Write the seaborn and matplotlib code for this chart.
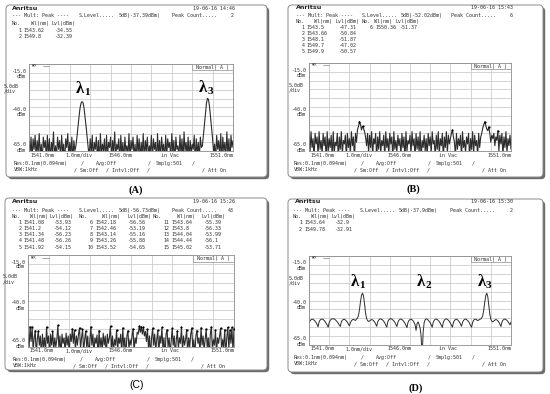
import numpy as np
import pandas as pd
import matplotlib
matplotlib.use("Agg")
import matplotlib.pyplot as plt
import seaborn as sns
from matplotlib.patches import FancyBboxPatch, Rectangle

# trace levels (dBm), 201 samples each from 1541.0 to 1551.0 nm
a_levels = [-60, -67, -57, -70, -58, -64, -56, -69, -59, -66,
            -55, -68, -61, -72, -57, -63, -59, -70, -56, -67,
            -58, -71, -60, -65, -54, -69, -62, -68, -57, -64,
            -59, -70, -56, -66, -61, -72, -58, -63, -55, -69,
            -60, -67, -57, -71, -59, -65, -62, -57, -51, -45.5,
            -40.5, -37.5, -36.6, -37.3, -40.5, -45.5, -51, -57, -63, -68,
            -58, -66, -56, -70, -60, -64, -57, -69, -59, -72,
            -55, -67, -61, -65, -58, -71, -56, -68, -60, -63,
            -57, -70, -59, -66, -54, -69, -61, -64, -58, -72,
            -56, -67, -60, -71, -57, -65, -62, -68, -55, -70,
            -59, -64, -57, -69, -61, -72, -56, -66, -58, -70,
            -60, -67, -55, -71, -59, -65, -57, -68, -62, -66,
            -56, -70, -58, -64, -60, -72, -55, -67, -59, -69,
            -57, -65, -61, -71, -56, -68, -58, -63, -60, -70,
            -55, -66, -59, -72, -57, -64, -62, -69, -56, -67,
            -58, -71, -54, -65, -60, -68, -57, -70, -59, -66,
            -61, -64, -56, -72, -58, -67, -60, -69, -57, -63,
            -62, -56, -49.5, -43.5, -37.5, -34.7, -35.5, -39.5, -45.5, -52,
            -58, -66, -61, -70, -56, -64, -59, -68, -55, -71,
            -57, -65, -60, -69, -54, -67, -58, -72, -56, -63, -59]

b_levels = [-56, -66, -54, -63, -58, -70, -55, -61, -57, -68,
            -54, -64, -59, -67, -55, -62, -57, -71, -54, -65,
            -58, -63, -56, -69, -54, -66, -60, -62, -55, -70,
            -57, -64, -54, -67, -59, -61, -56, -69, -55, -63,
            -58, -66, -54, -62, -57, -70, -55, -60, -53, -51,
            -48.3, -50, -53, -51, -52.1, -54, -57, -62, -55, -66,
            -56, -63, -54, -68, -58, -61, -55, -70, -57, -64,
            -54, -66, -59, -62, -56, -69, -54, -63, -58, -67,
            -55, -61, -57, -70, -54, -64, -59, -66, -56, -62,
            -58, -68, -55, -63, -57, -71, -54, -65, -59, -61,
            -56, -67, -54, -62, -58, -69, -55, -64, -57, -66,
            -54, -70, -59, -63, -56, -65, -58, -68, -55, -62,
            -57, -66, -54, -61, -59, -69, -56, -64, -54, -67,
            -58, -62, -55, -70, -57, -63, -54, -66, -56, -61,
            -58, -55, -53.1, -57, -60, -68, -55, -64, -58, -62,
            -56, -69, -54, -63, -59, -66, -57, -61, -55, -70,
            -58, -64, -54, -67, -56, -62, -59, -68, -55, -63,
            -57, -55, -52, -50, -48.4, -50.5, -52.5, -53.5, -51.3, -55,
            -60, -56, -58, -55, -62, -57, -59, -53.5, -65, -56,
            -61, -55, -68, -57, -63, -54, -66, -58, -62, -56, -64]

c_levels = [-58, -66, -53.93, -62, -54.12, -67, -60, -56.23, -69, -61,
            -56.26, -64, -59, -70, -58, -65, -60, -68, -54.15, -63,
            -59, -71, -58, -64, -56.56, -67, -60, -65, -61, -53.19,
            -66, -59, -70, -58, -63, -60, -68, -57.5, -64, -59,
            -69, -58, -62, -55.16, -63, -55.88, -67, -59, -64, -58,
            -54.65, -66, -60, -55.39, -68, -61, -56.33, -65, -59, -70,
            -62, -53.99, -64, -58, -69, -60, -63, -58.5, -71, -56.1,
            -65, -60, -67, -57.5, -64, -59, -70, -58, -63, -60,
            -53.71, -66, -59, -68, -61, -64, -55.8, -67, -60, -63,
            -58, -69, -54.6, -65, -60, -71, -59, -56.2, -66, -61,
            -64, -59, -55.1, -68, -60, -63, -57, -58, -53.6, -57,
            -54.0, -58, -54.3, -59, -56.5, -62, -55.4, -66, -59, -70,
            -60, -54.8, -64, -58, -67, -61, -56.0, -69, -59, -63,
            -54.4, -66, -60, -71, -58, -55.7, -65, -60, -68, -62,
            -54.9, -64, -59, -70, -61, -56.3, -66, -60, -63, -54.2,
            -67, -59, -64, -61, -55.5, -69, -60, -65, -58, -54.7,
            -66, -61, -70, -59, -56.1, -63, -60, -68, -54.5, -64,
            -59, -67, -61, -55.2, -65, -60, -71, -58, -54.1, -66,
            -61, -64, -56.0, -69, -60, -63, -59, -54.8, -67, -61,
            -65, -55.6, -70, -60, -54.4, -66, -55.9, -63, -54.3, -68, -55.0]

d_levels = [-52.5, -51.5, -50.8, -50.5, -50.6, -51.0, -51.6, -52.4, -53.5, -54.8,
            -52.0, -51.0, -50.6, -50.4, -50.7, -51.2, -51.9, -52.8, -53.8, -55.0,
            -52.3, -51.2, -50.5, -50.2, -50.4, -50.3, -50.8, -51.4, -52.0, -52.9,
            -53.9, -54.6, -52.0, -51.1, -50.6, -50.5, -50.9, -51.5, -52.2, -53.3,
            -54.2, -52.5, -51.4, -50.8, -50.6, -50.9, -51.2, -50.5, -49.8, -48.5,
            -45.0, -40.5, -37.0, -35.9, -37.5, -42.0, -47.0, -50.2, -51.3, -51.8,
            -51.5, -51.0, -50.7, -50.9, -51.4, -52.2, -53.2, -54.5, -52.1, -51.0,
            -50.5, -50.3, -50.6, -51.0, -51.7, -52.6, -53.8, -55.0, -52.0, -50.9,
            -50.4, -50.2, -50.5, -50.9, -51.5, -52.3, -53.4, -54.6, -52.2, -51.1,
            -50.6, -50.4, -50.7, -51.2, -51.9, -52.8, -54.0, -55.2, -52.3, -51.2,
            -50.7, -50.5, -50.8, -51.4, -52.3, -53.5, -56.8, -53.0, -52.0, -53.5,
            -55.5, -60.0, -72.0, -58.0, -52.5, -50.8, -50.3, -50.5, -51.0, -51.7,
            -52.5, -53.6, -55.0, -52.3, -51.1, -50.6, -50.4, -50.7, -51.2, -51.9,
            -52.8, -54.0, -55.1, -52.2, -51.0, -50.5, -50.3, -50.6, -51.1, -51.8,
            -52.7, -53.9, -55.0, -52.4, -51.2, -50.7, -50.5, -50.8, -51.4, -52.2,
            -53.2, -54.5, -52.3, -51.2, -50.6, -50.4, -50.7, -51.2, -51.9, -52.9,
            -54.1, -55.0, -52.2, -51.1, -50.6, -50.5, -50.8, -51.3, -51.0, -50.6,
            -50.4, -49.8, -48.5, -45.5, -41.0, -37.3, -35.9, -37.8, -42.5, -47.5,
            -50.5, -51.6, -52.0, -51.5, -51.0, -50.7, -50.9, -51.4, -52.2, -53.3,
            -54.6, -52.2, -51.1, -50.6, -50.4, -50.7, -51.2, -51.9, -52.8, -53.7, -52.0]

# peak tables printed on the screens
a_tab_wl = [1543.62, 1549.8]
a_tab_lvl = [-34.55, -32.39]
b_tab_wl = [1543.5, 1543.66, 1548.1, 1549.7, 1549.9, 1550.36]
b_tab_lvl = [-47.31, -50.84, -51.87, -47.02, -50.57, -51.37]
c_tab_wl = [1541.08, 1541.2, 1541.34, 1541.48, 1541.92,
            1542.18, 1542.46, 1543.14, 1543.26, 1543.52,
            1543.64, 1543.8, 1544.04, 1544.44, 1545.02]
c_tab_lvl = [-53.93, -54.12, -56.23, -56.26, -54.15,
             -56.56, -53.19, -55.16, -55.88, -54.65,
             -55.39, -56.33, -53.99, -56.1, -53.71]
d_tab_wl = [1543.64, 1549.78]
d_tab_lvl = [-32.9, -32.91]

# peak marker dots seen on the traces
b_mark_lvl = [-48.3, -51.0, -53.1, -48.4, -51.3, -53.5]
c_more_wl = [1545.30, 1545.60, 1545.85, 1546.10, 1546.40, 1546.50, 1546.60,
             1546.80, 1547.05, 1547.30, 1547.50, 1547.75, 1548.00, 1548.25,
             1548.45, 1548.70, 1548.95, 1549.20, 1549.40, 1549.65, 1549.90,
             1550.10, 1550.35, 1550.55, 1550.70, 1550.80, 1550.90, 1551.00]
c_more_lvl = [-55.8, -54.6, -56.2, -55.1, -53.6, -54.0, -54.3,
              -55.4, -54.8, -56.0, -54.4, -55.7, -54.9, -56.3,
              -54.2, -55.5, -54.7, -56.1, -54.5, -55.2, -54.1,
              -56.0, -54.8, -55.6, -54.4, -55.9, -54.3, -55.0]

dates = ["19-06-16 14:46", "19-06-16 15:43", "19-06-16 15:26", "19-06-16 15:30"]
s_level = [-37.39, -52.02, -56.73, -37.9]
peak_count = [2, 6, 43, 2]
labels = ["(A)", "(B)", "(C)", "(D)"]

sns.set_style("whitegrid")
plt.rcParams['font.family'] = ['DejaVu Sans Mono', 'DejaVu Sans']

W, H = 550, 394
fig = plt.figure(figsize=(5.5, 3.94), dpi=100)
back = fig.add_axes([0, 0, 1, 1], zorder=0)
back.set_xlim(0, W)
back.set_ylim(H, 0)
back.axis('off')
front = fig.add_axes([0, 0, 1, 1], zorder=5)
front.set_xlim(0, W)
front.set_ylim(H, 0)
front.axis('off')

INK = '#333333'
FS = 3.65


def txt(x, y, s, ha='left', fs=FS, **kw):
    back.text(x, y, s, ha=ha, va='center', fontsize=fs, color=INK, **kw)


def frame(x0, y0, x1, y1):
    back.add_patch(FancyBboxPatch((x0 + 2.2, y0 + 2.2), x1 - x0, y1 - y0,
                                  boxstyle="round,pad=0,rounding_size=4",
                                  fc='#6c6c6c', ec='none'))
    back.add_patch(FancyBboxPatch((x0, y0), x1 - x0, y1 - y0,
                                  boxstyle="round,pad=0,rounding_size=4",
                                  fc='white', ec='#8a8a8a', lw=0.7))


def screen(L, T, R, B):
    ax = fig.add_axes([L / W, 1 - B / H, (R - L) / W, (B - T) / H], zorder=2)
    return ax


def style(ax):
    ax.set_xlim(1541, 1551)
    ax.set_ylim(-65, -15)
    ax.set_xticks(np.arange(1541, 1552))
    ax.set_yticks(np.arange(-65, -14, 5))
    ax.tick_params(length=0, labelbottom=False, labelleft=False)
    ax.grid(True, color='#c4c4c4', lw=0.5)
    ax.set_xlabel('')
    ax.set_ylabel('')
    ax.set_facecolor('white')
    for s in ax.spines.values():
        s.set_color('#8c8c8c')
        s.set_linewidth(0.6)
    ax.add_patch(Rectangle((1549, -18.6), 2, 3.6, fc='white', ec='#8c8c8c',
                           lw=0.5, zorder=3))
    ax.text(1550, -16.8, 'Normal( A )', ha='center', va='center',
            fontsize=3.6, color=INK, zorder=4)
    ax.text(1541.12, -16.4, 'MKR', ha='left', va='center', fontsize=2.2,
            color=INK, zorder=4)
    ax.plot([1541.7, 1542.0], [-16.4, -16.4], color='#666666', lw=0.4, zorder=4)


def scale_text(FL, L, T, R, B):
    M = (T + B) / 2
    xr = L - 3
    txt(xr, T + 7, '-15.0', ha='right')
    txt(xr, T + 12, 'dBm', ha='right')
    txt(FL, T + 22, '5.0dB')
    txt(FL, T + 27, '/div')
    txt(xr, M + 2, '-40.0', ha='right')
    txt(xr, M + 7, 'dBm', ha='right')
    txt(xr, B - 7, '-65.0', ha='right')
    txt(xr, B - 1, 'dBm', ha='right')
    w = R - L
    y = B + 4
    txt(L + 1, y, '1541.0nm')
    txt(L + 0.18 * w, y, '1.0nm/div')
    txt(L + 0.39 * w, y, '1546.0nm')
    txt(L + 0.645 * w, y, 'in Vac')
    txt(R, y, '1551.0nm', ha='right')
    y1, y2 = B + 12, B + 18.5
    for dx, s in [(-15, 'Res:0.1nm(0.094nm)'), (52, '/'), (67, 'Avg:Off'),
                  (119, '/'), (127, 'Smplg:501'), (163, '/')]:
        txt(L + dx, y1, s)
    for dx, s in [(-15, 'VBW:1kHz'), (45, '/ Sm:Off'), (77, '/ Intvl:Off'),
                  (118, '/'), (173, '/ Att On')]:
        txt(L + dx, y2, s)


def header(i, logo_xy, date_x, y2, xs, count_x):
    back.text(logo_xy[0], logo_xy[1], 'Anritsu', ha='left', va='center',
              fontsize=4.6, fontweight='bold', family='DejaVu Sans', color='#222222')
    txt(date_x, logo_xy[1], dates[i], ha='right')
    txt(xs[0], y2, '--- Mult: Peak ----')
    txt(xs[1], y2, 'S.Level.....')
    txt(xs[2], y2, '5dB(' + str(s_level[i]) + 'dBm)')
    txt(xs[3], y2, 'Peak Count.....')
    txt(count_x, y2, str(peak_count[i]), ha='right')


def table(xn, xw, xl, y_head, xh, ys, nums, wls, lvls):
    txt(xh[0], y_head, 'No.')
    txt(xh[1], y_head, 'Wl(nm)')
    txt(xh[2], y_head, 'Lvl(dBm)')
    for n, w, l, y in zip(nums, wls, lvls, ys):
        txt(xn, y, str(n), ha='right')
        txt(xw, y, str(w))
        txt(xl, y, str(l))


def lam(x, y, k):
    front.text(x, y, '\u03bb', ha='center', va='center', fontsize=12,
               family=['Liberation Serif', 'DejaVu Serif'], fontweight='bold', color='black')
    front.text(x + 7.3, y + 3, str(k), ha='center', va='center', fontsize=8,
               family=['Liberation Serif', 'DejaVu Serif'], fontweight='bold', color='black')


def trace(ax, levels, marks=None, lw=0.8):
    wl = np.linspace(1541, 1551, len(levels))
    df = pd.DataFrame({'wl': wl, 'lvl': levels})
    sns.lineplot(data=df, x='wl', y='lvl', ax=ax, color='#2c2c2c',
                 linewidth=lw, estimator=None, legend=False)
    if marks is not None:
        sns.scatterplot(x=marks[0], y=marks[1], ax=ax, color='black', s=2.5,
                        linewidth=0, zorder=5, legend=False)
    style(ax)


# ---- panel A ----
frame(6, 5, 267, 177)
axA = screen(29, 64, 233, 151)
trace(axA, a_levels)
scale_text(4, 29, 64, 233, 151)
header(0, (12, 8), 235, 15.5, [12, 79, 119, 172], 234)
table(21.5, 23, 54, 23, [12, 31, 51], [30, 36.5], [1, 2], a_tab_wl, a_tab_lvl)
lam(79.7, 89.2, 1)
lam(203, 88, 3)

# ---- panel B ----
frame(288, 5, 543, 177)
axB = screen(309, 63, 511, 151)
trace(axB, b_levels, (b_tab_wl, b_mark_lvl))
scale_text(289, 309, 63, 511, 151)
header(1, (296, 7.5), 513, 15, [296, 362, 401, 451], 513)
rowsB = [27, 33, 39, 45, 51]
table(304.5, 306, 338, 21, [296, 314, 335], rowsB, [1, 2, 3, 4, 5],
      b_tab_wl[:5], b_tab_lvl[:5])
table(373, 375, 399, 21, [362, 374, 395], rowsB[:1], [6], b_tab_wl[5:], b_tab_lvl[5:])

# ---- panel C ----
frame(5, 198, 267, 370)
axC = screen(28, 255, 234, 347)
trace(axC, c_levels, (c_tab_wl + c_more_wl, c_tab_lvl + c_more_lvl))
scale_text(3, 28, 255, 234, 347)
header(2, (12, 201), 235, 210, [12, 79, 119, 172], 234)
rowsC = [222, 228.3, 234.6, 240.9, 247.2]
table(21.5, 23, 53, 216, [12, 30, 50], rowsC, range(1, 6), c_tab_wl[0:5], c_tab_lvl[0:5])
table(93, 95, 127, 216, [79, 102, 127], rowsC, range(6, 11), c_tab_wl[5:10], c_tab_lvl[5:10])
table(169.5, 171, 203, 216, [153, 177, 202], rowsC, range(11, 16), c_tab_wl[10:15], c_tab_lvl[10:15])

# ---- panel D ----
frame(288, 199, 543, 372)
axD = screen(309, 256, 511, 345)
trace(axD, d_levels, lw=0.7)
scale_text(289, 309, 256, 511, 345)
header(3, (295, 201), 513, 210, [293, 360, 399, 450], 513)
table(302, 304, 334, 216, [293, 311, 331], [222.5, 229], [1, 2], d_tab_wl, d_tab_lvl)
lam(355, 282, 1)
lam(421, 282, 2)
lam(481.5, 282, 3)

# panel captions
serif = ['Liberation Serif', 'DejaVu Serif']
front.text(136, 190, labels[0], ha='center', va='center', fontsize=7.5,
           family=serif, fontweight='bold', color='black')
front.text(413, 189, labels[1], ha='center', va='center', fontsize=7.5,
           family=serif, fontweight='bold', color='black')
front.text(137, 385, labels[2], ha='center', va='center', fontsize=7.5,
           family=['Liberation Sans', 'DejaVu Sans'], color='black')
front.text(416, 388, labels[3], ha='center', va='center', fontsize=7.5,
           family=serif, fontweight='bold', color='black')

fig.savefig('out.png', dpi=100)
